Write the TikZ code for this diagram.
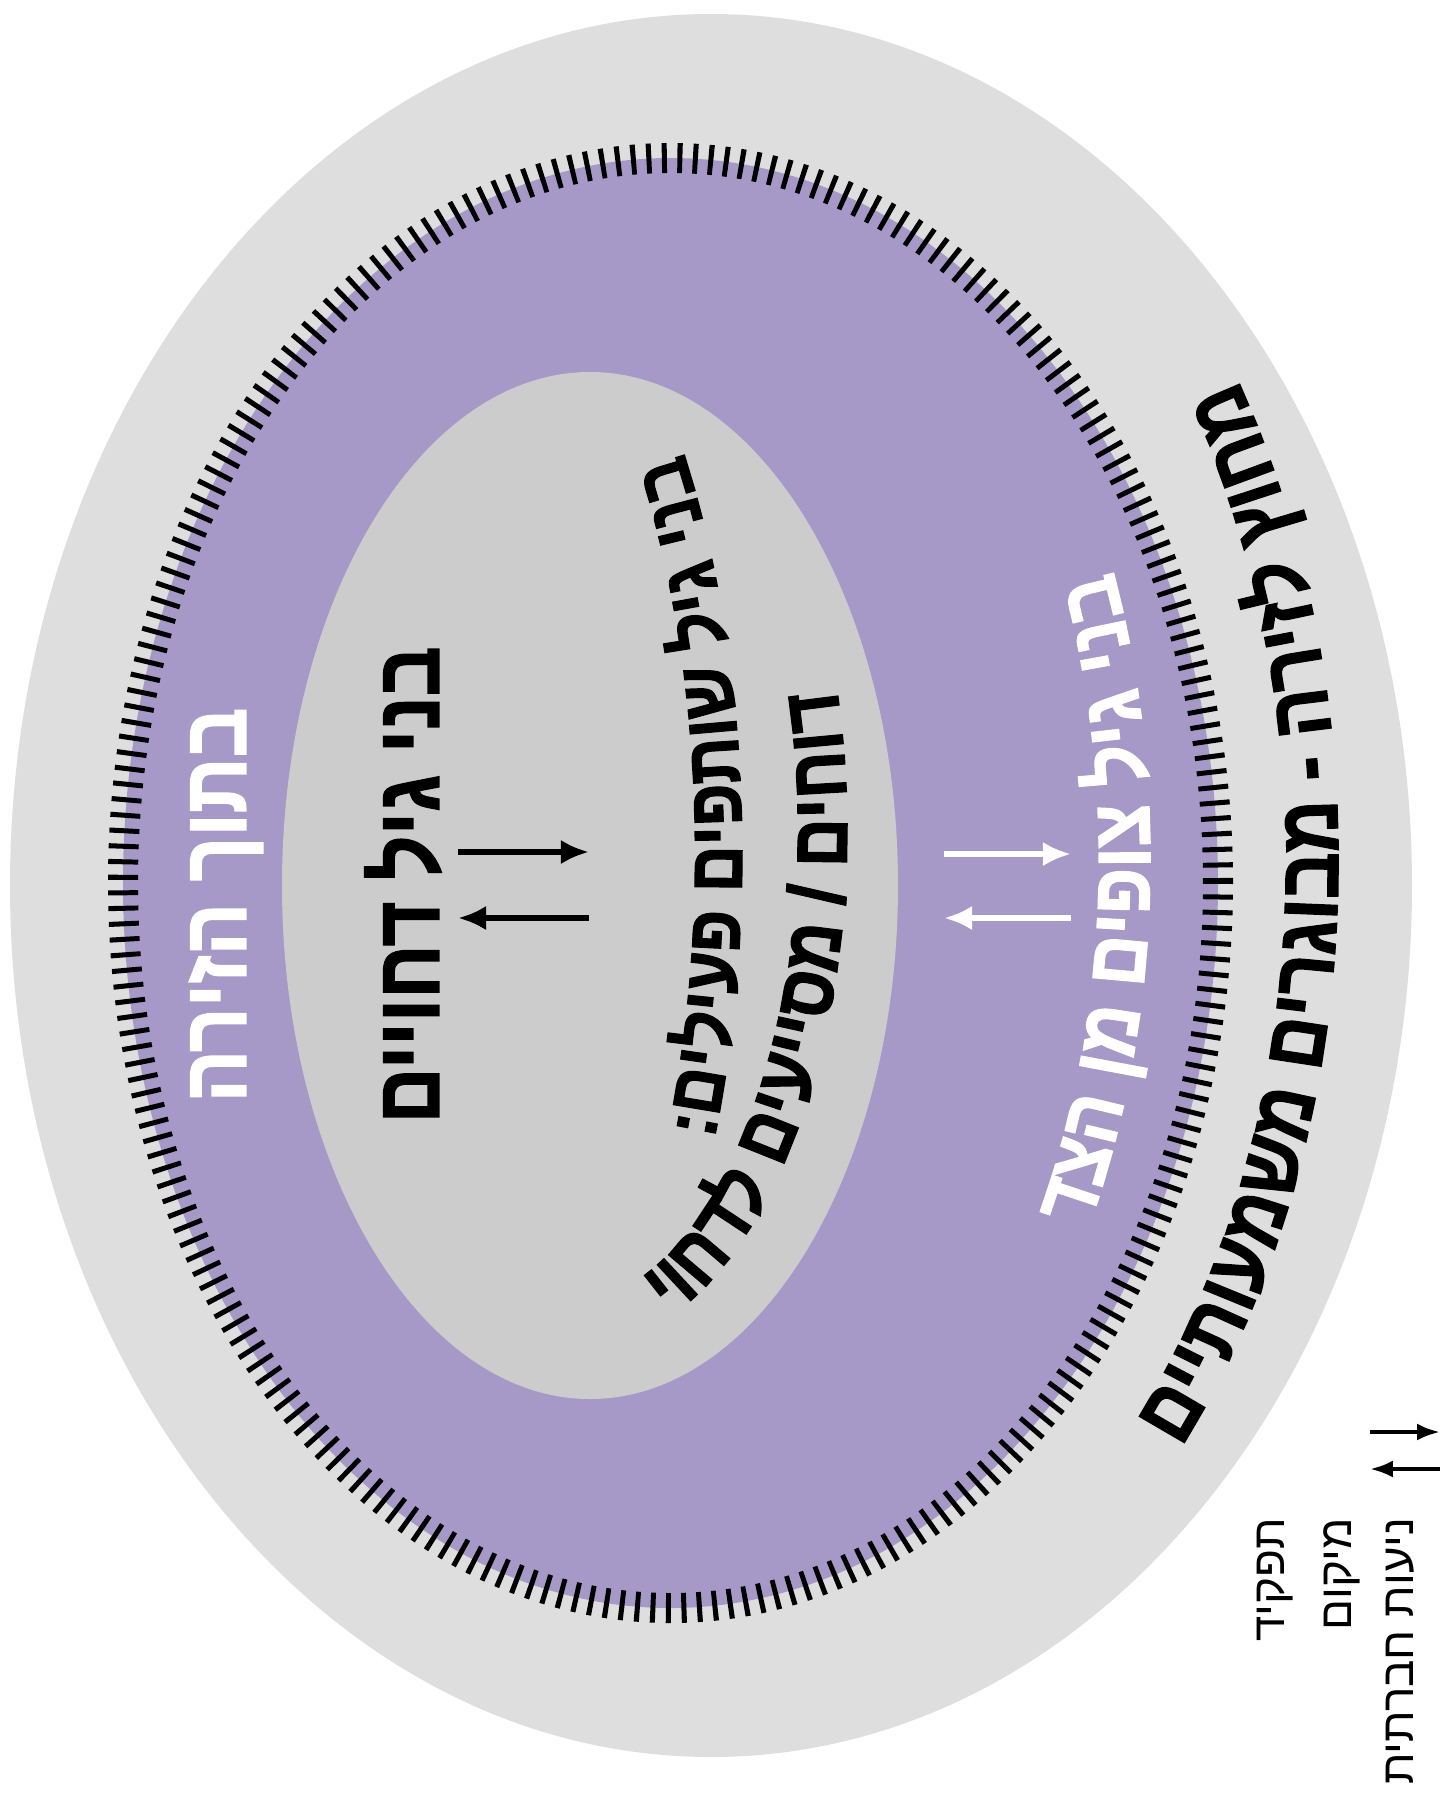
\documentclass[tikz,border=0pt]{standalone}
\usepackage{fontspec}
\setmainfont{Liberation Sans}
\newfontfamily\hebfont[Script=Hebrew,FakeStretch=0.85,FakeBold=1.5]{Liberation Sans}
\newfontfamily\hebthin[Script=Hebrew]{Liberation Sans}
\TeXXeTstate=1
\usetikzlibrary{arrows.meta,decorations.text}

\definecolor{outergray}{HTML}{DEDEDE}
\definecolor{ringpurple}{HTML}{A699C7}
\definecolor{innergray}{HTML}{CCCCCC}

\tikzset{
  heblabel/.style={rotate=90, inner sep=0pt, font=\hebfont\bfseries\fontsize{26}{30}\selectfont},
  legendtext/.style={rotate=90, inner sep=0pt, font=\hebthin\fontsize{13}{16}\selectfont},
  flow/.style={->, line width=0.06cm},
  flowsmall/.style={-{Latex[length=6.5pt,width=4.8pt]}, line width=0.04cm},
}

\begin{document}
\begin{tikzpicture}[x=0.01cm, y=0.01cm, >={Latex[length=8pt,width=7pt]}]
	\useasboundingbox (0,0) rectangle (1442,-1811);

	% === RINGS === (((
	\fill[outergray] (711,-885.5) ellipse [x radius=701, y radius=871.5];
	\fill[ringpurple] (670.5,-883) ellipse [x radius=547.5, y radius=725];
	\draw[line width=0.30cm, dash pattern=on 0.05cm off 0.105cm] (670.5,-883) ellipse [x radius=547.5, y radius=725];
	\fill[innergray] (590,-885.5) ellipse [x radius=308, y radius=513.5];
	% )))

	% === NODES === (((
	\node[heblabel, white] (arena) at (226,-905) {\beginR בתוך הזירה\endR};
	\node[heblabel] (rejected) at (403,-885) {\beginR בני גיל דחויים\endR};

	\node[legendtext, anchor=east] (legMob) at (1400,-1517) {\beginR ניעות חברתית\endR};
	\node[legendtext, anchor=east] (legPlace) at (1342,-1517) {\beginR מיקום\endR};
	\node[legendtext, anchor=east] (legRole) at (1275,-1517) {\beginR תפקיד\endR};

	\coordinate (inA) at (458,-852);
	\coordinate (inB) at (589,-852);
	\coordinate (inC) at (589,-918);
	\coordinate (inD) at (458,-918);

	\coordinate (outA) at (944,-854);
	\coordinate (outB) at (1071,-854);
	\coordinate (outC) at (1071,-918);
	\coordinate (outD) at (944,-918);

	\coordinate (legA) at (1370,-1432);
	\coordinate (legB) at (1440,-1432);
	\coordinate (legC) at (1440,-1469);
	\coordinate (legD) at (1370,-1469);
	% )))

	% === CURVED TEXT === (((
	% letters are given in visual order, the path runs upwards
	\path[decorate, decoration={text along path, text align=center,
		text={|\hebfont\bfseries\fontsize{24.5}{28}\selectfont|םייתועמשמ םירגובמ - הריזל ץוחמ}}]
		(711,-861) ++(-70:627 and 886) arc[start angle=-70, end angle=60, x radius=627, y radius=886];

	\path[decorate, decoration={text along path, text align=center, text color=white,
		text={|\hebfont\bfseries\fontsize{24}{28}\selectfont|דצה ןמ םיפוצ ליג ינב}}]
		(598,-860) ++(-70:552 and 802) arc[start angle=-70, end angle=62, x radius=552, y radius=802];

	\path[decorate, decoration={text along path, text align=center,
		text={|\hebfont\bfseries\fontsize{22}{26}\selectfont|:םיליעפ םיפתוש ליג ינב}}]
		(420,-855) ++(-61:322 and 700) arc[start angle=-61, end angle=79, x radius=322, y radius=700];

	\path[decorate, decoration={text along path, text align=center,
		text={|\hebfont\bfseries\fontsize{23}{27}\selectfont|יוחדל םיעייסמ / םיחוד}}]
		(575,-830) ++(-104:272 and 520) arc[start angle=-104, end angle=36, x radius=272, y radius=520];
	% )))

	% === LINES === (((
	\draw[flow] (inA) -- (inB);
	\draw[flow] (inC) -- (inD);

	\draw[flow, white] (outA) -- (outB);
	\draw[flow, white] (outC) -- (outD);

	\draw[flowsmall] (legA) -- (legB);
	\draw[flowsmall] (legC) -- (legD);
	% )))

\end{tikzpicture}
\end{document}
